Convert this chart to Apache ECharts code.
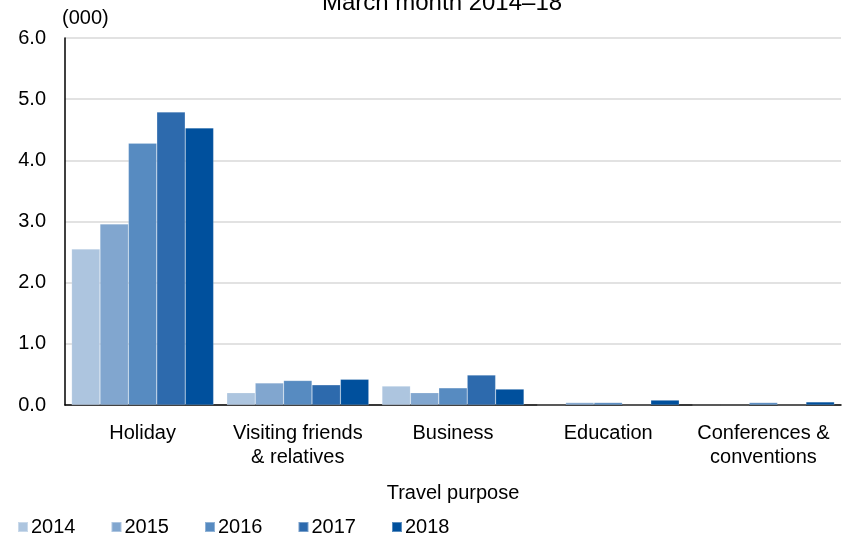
<!DOCTYPE html>
<html>
<head>
<meta charset="utf-8">
<script src="https://cdn.jsdelivr.net/npm/echarts@6/dist/echarts.min.js"></script>
<style>html,body{margin:0;padding:0;background:#fff}#c{width:842px;height:542px}</style>
</head>
<body>
<div id="c"></div>
<script>
const categories = ["Holiday", "Visiting friends\n& relatives", "Business", "Education", "Conferences &\nconventions"];
const years = ["2014", "2015", "2016", "2017", "2018"];
const v2014 = [2.55, 0.20, 0.31, 0.00, 0.00];
const v2015 = [2.96, 0.36, 0.20, 0.04, 0.00];
const v2016 = [4.28, 0.40, 0.28, 0.04, 0.04];
const v2017 = [4.79, 0.33, 0.49, 0.00, 0.00];
const v2018 = [4.53, 0.42, 0.26, 0.08, 0.05];
const colors = ["#adc5df", "#81a6cf", "#578bc1", "#2d6aad", "#00509d"];
const seriesValues = [v2014, v2015, v2016, v2017, v2018];

const FONT = "Liberation Sans, Arial, sans-serif";
const FS = 20;
const chart = echarts.init(document.getElementById('c'));
chart.setOption({
  animation: false,
  title: {
    text: "March month 2014\u201318",
    left: 437, top: -14, textAlign: 'center',
    textStyle: {fontFamily: FONT, fontSize: 24, fontWeight: 'normal', color: '#000'}
  },
  legend: {
    left: 12, bottom: 0, itemWidth: 10, itemHeight: 10, itemGap: 35, icon: 'rect',
    textStyle: {fontFamily: FONT, fontSize: FS, color: '#000', padding: [0, 0, 0, -2]},
    data: years
  },
  grid: {left: 65, right: 1, top: 38, bottom: 137},
  xAxis: {
    type: 'category', data: categories,
    name: 'Travel purpose', nameLocation: 'middle', nameGap: 78,
    nameTextStyle: {fontFamily: FONT, fontSize: FS, color: '#000'},
    axisLine: {lineStyle: {color: '#000', width: 1.5}},
    axisTick: {show: false},
    axisLabel: {interval: 0, hideOverlap: false, fontFamily: FONT, fontSize: FS, color: '#000', margin: 16, lineHeight: 24}
  },
  yAxis: {
    type: 'value', min: 0, max: 6, interval: 1,
    name: '(000)', nameGap: 10,
    nameTextStyle: {fontFamily: FONT, fontSize: FS, color: '#000', align: 'left', padding: [0, 0, 0, -3]},
    axisLine: {show: true, lineStyle: {color: '#000', width: 1.5}},
    axisTick: {show: false},
    axisLabel: {fontFamily: FONT, fontSize: FS, color: '#000', margin: 19, formatter: v => v.toFixed(1)},
    splitLine: {lineStyle: {color: '#d9d9d9', width: 1.5}}
  },
  series: years.map((y, i) => ({
    name: y, type: 'bar', data: seriesValues[i],
    barGap: '0%', barCategoryGap: '8.5%',
    itemStyle: {color: colors[i], borderColor: 'rgba(255,255,255,0.35)', borderWidth: 0.5}
  }))
});
</script>
</body>
</html>
